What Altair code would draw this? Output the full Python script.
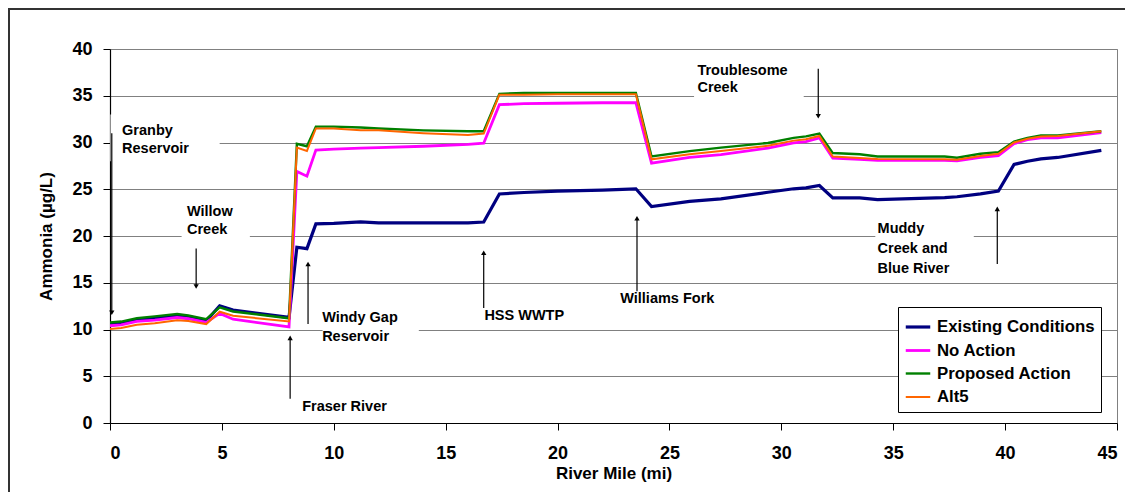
import altair as alt
import pandas as pd

# ---- data ----
miles = [0, 0.5, 1.2, 2.0, 3.0, 3.5, 4.3, 4.9, 5.5, 8.0, 8.35, 8.8, 9.2, 10, 11.2, 12, 14, 16, 16.7,
         17.4, 18.5, 20, 22, 23.5, 24.2, 25.9, 27.3, 29.4, 30.55, 31.1, 31.7, 32.3, 33.5, 34.3,
         37.3, 37.85, 38.9, 39.7, 40.4, 41.0, 41.6, 42.35, 44.3]
existing = [10.6, 10.7, 11.05, 11.2, 11.43, 11.3, 10.9, 12.54, 12.08, 11.29, 18.8, 18.65, 21.3, 21.35, 21.5, 21.4, 21.4, 21.4, 21.5,
            24.5, 24.65, 24.8, 24.9, 25.05, 23.15, 23.7, 23.97, 24.68, 25.05, 25.15, 25.4, 24.08, 24.08, 23.9,
            24.1, 24.2, 24.5, 24.8, 27.65, 28.0, 28.25, 28.4, 29.15]
no_action = [10.4, 10.5, 10.86, 11.0, 11.28, 11.15, 10.75, 11.72, 11.1, 10.29, 26.9, 26.4, 29.2, 29.3, 29.4, 29.45, 29.6, 29.8, 29.93,
             34.05, 34.15, 34.2, 34.25, 34.25, 27.8, 28.4, 28.7, 29.4, 29.95, 30.1, 30.5, 28.33, 28.2, 28.08,
             28.08, 28.05, 28.4, 28.6, 29.87, 30.3, 30.5, 30.5, 31.05]
proposed = [10.75, 10.85, 11.2, 11.4, 11.65, 11.5, 11.1, 12.36, 11.93, 11.2, 29.87, 29.6, 31.7, 31.7, 31.6, 31.5, 31.3, 31.2, 31.2,
            35.2, 35.3, 35.3, 35.3, 35.3, 28.5, 29.08, 29.45, 29.95, 30.5, 30.65, 30.95, 28.87, 28.75, 28.5,
            28.5, 28.37, 28.8, 28.97, 30.1, 30.5, 30.76, 30.76, 31.2]
alt5 = [10.05, 10.15, 10.5, 10.68, 11.0, 10.9, 10.58, 11.9, 11.47, 10.86, 29.45, 29.1, 31.5, 31.5, 31.3, 31.3, 31.0, 30.8, 30.95,
        35.1, 35.1, 35.15, 35.15, 35.15, 28.2, 28.75, 29.1, 29.65, 30.2, 30.35, 30.7, 28.5, 28.33, 28.23,
        28.2, 28.15, 28.55, 28.8, 30.0, 30.4, 30.65, 30.7, 31.2]

series = ["Existing Conditions", "No Action", "Proposed Action", "Alt5"]
colors = ["#000080", "#FF00FF", "#008000", "#FF6600"]
widths = [3.2, 2, 2, 2.5]

# annotation text lines
ann_text = ["Granby", "Reservoir", "Willow", "Creek", "Windy Gap", "Reservoir", "Fraser River",
            "HSS WWTP", "Williams Fork", "Troublesome", "Creek", "Muddy", "Creek and", "Blue River"]
ann_x = [0.54, 0.54, 3.44, 3.44, 9.48, 9.48, 8.59, 16.73, 22.8, 26.25, 26.25, 34.3, 34.3, 34.3]
ann_y = [31.2, 29.26, 22.6, 20.6, 11.25, 9.2, 1.7, 11.45, 13.3, 37.7, 35.8, 20.8, 18.65, 16.5]

# arrows: x, tail value, head value
arr_x = [0.08, 3.85, 8.85, 8.05, 16.7, 23.55, 31.65, 39.65]
arr_from = [31.0, 18.65, 10.6, 2.6, 12.3, 14.1, 37.9, 17.0]
arr_to = [11.8, 14.6, 17.0, 9.1, 18.2, 21.9, 32.8, 22.9]

# white label boxes that break the gridlines
box_x = [0.02, 3.2, 9.5, 26.1, 34.2]
box_x2 = [4.9, 6.25, 13.8, 31.0, 38.6]
box_y = [28.0, 17.5, 8.0, 33.5, 16.0]
box_y2 = [33.0, 23.5, 12.0, 38.5, 23.5]

FONT = "Liberation Sans"

rows = []
for name, vals in zip(series, [existing, no_action, proposed, alt5]):
    for m, v in zip(miles, vals):
        rows.append({"mile": m, "value": v, "series": name})
df = pd.DataFrame(rows)

xscale = alt.Scale(domain=[0, 45], nice=False, zero=False)
yscale = alt.Scale(domain=[0, 40], nice=False)

lines = alt.Chart(df).mark_line(clip=True).encode(
    x=alt.X("mile:Q", scale=xscale, title="River Mile (mi)",
            axis=alt.Axis(values=list(range(0, 50, 5)), grid=False, tickSize=7,
                          labelPadding=14, titlePadding=3)),
    y=alt.Y("value:Q", scale=yscale, title="Ammonia (\u00b5g/L)",
            axis=alt.Axis(values=list(range(0, 45, 5)), grid=True, tickSize=7,
                          labelPadding=11, titlePadding=16)),
    color=alt.Color("series:N", sort=series,
                    scale=alt.Scale(domain=series, range=colors),
                    legend=alt.Legend(orient="none", legendX=788, legendY=258, title=None,
                                      fillColor="white", strokeColor="black", padding=6,
                                      symbolType="stroke", symbolStrokeWidth=3, symbolSize=600,
                                      labelFontSize=16.8, labelFontWeight="bold", labelFont=FONT,
                                      labelColor="black", rowPadding=0.5, labelLimit=400,
                                      symbolOffset=0, labelOffset=5)),
    strokeWidth=alt.StrokeWidth("series:N", scale=alt.Scale(domain=series, range=widths), legend=None),
    order=alt.Order("mile:Q"),
)

boxes = alt.Chart(pd.DataFrame({"x": box_x, "x2": box_x2, "y": box_y, "y2": box_y2})).mark_rect(
    fill="white").encode(
    x=alt.X("x:Q", scale=xscale), x2="x2:Q",
    y=alt.Y("y:Q", scale=yscale), y2="y2:Q")

arr_df = pd.DataFrame({"x": arr_x, "y": arr_from, "y2": arr_to,
                       "shape": ["triangle-down" if t < f else "triangle-up" for f, t in zip(arr_from, arr_to)]})
shafts = alt.Chart(arr_df).mark_rule(color="black", strokeWidth=1.2).encode(
    x=alt.X("x:Q", scale=xscale), y=alt.Y("y:Q", scale=yscale), y2="y2:Q")
heads = alt.Chart(arr_df).mark_point(filled=True, color="black", size=28, opacity=1).encode(
    x=alt.X("x:Q", scale=xscale), y=alt.Y("y2:Q", scale=yscale),
    shape=alt.Shape("shape:N", scale=None))

texts = alt.Chart(pd.DataFrame({"t": ann_text, "x": ann_x, "y": ann_y})).mark_text(
    align="left", baseline="middle", font=FONT, fontSize=14.5, fontWeight="bold", color="black").encode(
    x=alt.X("x:Q", scale=xscale), y=alt.Y("y:Q", scale=yscale), text="t:N")

frame = alt.Chart(alt.Data(values=[{}])).mark_rect(filled=False, stroke="#333333", strokeWidth=2).encode(
    x=alt.value(-101), x2=alt.value(1040), y=alt.value(-40), y2=alt.value(480))

chart = alt.layer(boxes, lines, shafts, heads, texts, frame).properties(
    width=1007, height=374,
    autosize=alt.AutoSizeParams(type="none"),
    padding={"left": 102, "top": 41, "right": 8, "bottom": 69},
).configure_view(stroke="#808080", strokeWidth=1).configure_axis(
    labelFont=FONT, labelFontSize=18, labelFontWeight="bold", labelColor="black",
    titleFont=FONT, titleFontSize=17, titleFontWeight="bold", titleColor="black",
    domainColor="black", tickColor="black", gridColor="#808080", gridWidth=1,
    domainWidth=1.2,
)

chart.save("out.html", embed_options={"renderer": "svg", "actions": False})
